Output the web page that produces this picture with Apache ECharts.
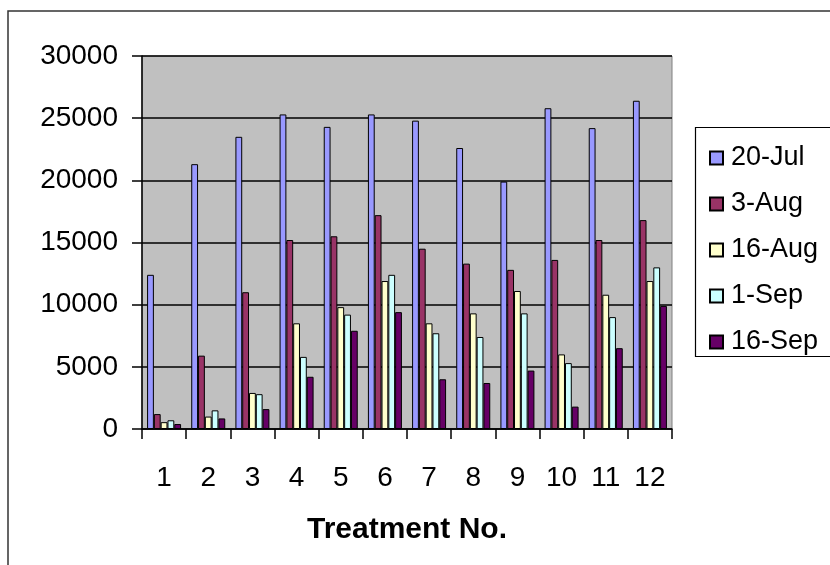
<!DOCTYPE html>
<html>
<head>
<meta charset="utf-8">
<script src="https://cdn.jsdelivr.net/npm/echarts@6/dist/echarts.min.js"></script>
<style>html,body{margin:0;padding:0;background:#fff;}#c{width:830px;height:565px;}</style>
</head>
<body>
<div id="c"></div>
<script>
var categories = ['1','2','3','4','5','6','7','8','9','10','11','12'];
var seriesNames = ['20-Jul','3-Aug','16-Aug','1-Sep','16-Sep'];
var jul20 = [12400, 21300, 23500, 25300, 24300, 25300, 24800, 22600, 19900, 25800, 24200, 26400];
var aug3  = [1200, 5900, 11000, 15200, 15500, 17200, 14500, 13300, 12800, 13600, 15200, 16800];
var aug16 = [550, 1000, 2900, 8500, 9800, 11900, 8500, 9300, 11100, 6000, 10800, 11900];
var sep1  = [700, 1500, 2800, 5800, 9200, 12400, 7700, 7400, 9300, 5300, 9000, 13000];
var sep16 = [400, 850, 1600, 4200, 7900, 9400, 4000, 3700, 4700, 1800, 6500, 9900];
var yTicks = [0, 5000, 10000, 15000, 20000, 25000, 30000];

var colors = ['#9999FF','#993366','#FFFFCC','#CCFFFF','#660066'];
var allData = [jul20, aug3, aug16, sep1, sep16];
var font = 'Liberation Sans, Arial, sans-serif';

var chart = echarts.init(document.getElementById('c'), null, {renderer:'canvas'});
chart.setOption({
  animation: false,
  backgroundColor: '#ffffff',
  graphic: [
    {type:'rect', shape:{x:8, y:11, width:900, height:700}, style:{fill:'none', stroke:'#333', lineWidth:1.5}, z:-10},
    {type:'rect', shape:{x:695.5, y:127.5, width:200, height:229}, style:{fill:'#fff', stroke:'#000', lineWidth:1.2}, z:0}
  ],
  grid: {left:142, top:56, right:158, bottom:136, show:true, backgroundColor:'#C0C0C0', borderColor:'#808080', borderWidth:1},
  legend: {
    orient:'vertical', left:704, top:138, itemWidth:13, itemHeight:13, itemGap:16,
    icon:'rect', data: seriesNames, z:5,
    textStyle:{fontFamily:font, fontSize:27, color:'#000', lineHeight:30, padding:[0,0,0,3]}
  },
  xAxis: {
    type:'category', data:categories,
    axisLine:{lineStyle:{color:'#000', width:1.5}},
    axisTick:{show:true, length:10, lineStyle:{color:'#000', width:1.5}},
    axisLabel:{color:'#000', fontFamily:font, fontSize:28, margin:35},
    name:'Treatment No.', nameLocation:'middle', nameGap:86,
    nameTextStyle:{color:'#000', fontFamily:font, fontSize:30, fontWeight:'bold'}
  },
  yAxis: {
    type:'value', min:yTicks[0], max:yTicks[yTicks.length-1], interval:yTicks[1]-yTicks[0],
    axisLine:{show:true, lineStyle:{color:'#000', width:1.5}},
    axisTick:{show:true, length:10, lineStyle:{color:'#000', width:1.5}},
    axisLabel:{color:'#000', fontFamily:font, fontSize:28, margin:24, formatter:function(v){return String(v);}},
    splitLine:{show:true, lineStyle:{color:'#000', width:1.5}}
  },
  series: seriesNames.map(function(n, i){
    return {
      name:n, type:'bar', data:allData[i],
      barGap:'0%', barCategoryGap:'23%',
      itemStyle:{color:colors[i], borderColor:'#000', borderWidth:1}
    };
  })
});
</script>
</body>
</html>
